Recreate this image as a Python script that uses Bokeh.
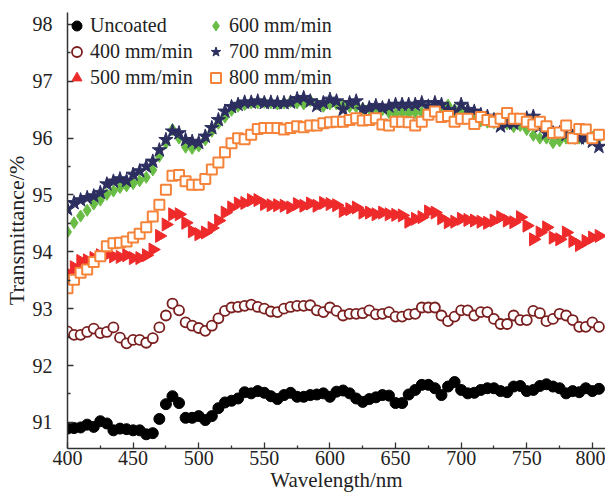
import numpy as np
from bokeh.plotting import figure
from bokeh.models import Range1d, FixedTicker, Legend, LegendItem, ColumnDataSource
from bokeh.embed import file_html
from bokeh.resources import INLINE

wavelength = list(range(400, 810, 5))

uncoated = [90.89, 90.90, 90.91, 90.96, 90.92, 91.02, 90.98, 90.86, 90.89, 90.88,
            90.86, 90.86, 90.79, 90.81, 91.06, 91.32, 91.46, 91.34, 91.08, 91.08,
            91.11, 91.04, 91.11, 91.25, 91.35, 91.38, 91.42, 91.53, 91.51, 91.55,
            91.52, 91.46, 91.41, 91.48, 91.52, 91.45, 91.45, 91.48, 91.49, 91.51,
            91.45, 91.54, 91.56, 91.51, 91.42, 91.36, 91.41, 91.44, 91.48, 91.47,
            91.34, 91.34, 91.49, 91.57, 91.66, 91.66, 91.60, 91.48, 91.63, 91.71,
            91.57, 91.51, 91.52, 91.57, 91.60, 91.60, 91.55, 91.53, 91.63, 91.64,
            91.55, 91.57, 91.64, 91.67, 91.63, 91.60, 91.51, 91.55, 91.53, 91.60,
            91.55, 91.59]

s400 = [92.60, 92.54, 92.54, 92.59, 92.65, 92.57, 92.59, 92.67, 92.49, 92.39,
        92.45, 92.45, 92.40, 92.48, 92.67, 92.88, 93.09, 92.97, 92.76, 92.70,
        92.66, 92.61, 92.70, 92.83, 92.96, 93.02, 93.03, 93.05, 93.07, 93.03,
        93.00, 92.95, 92.94, 93.00, 93.03, 93.05, 93.05, 93.06, 92.97, 92.94,
        93.02, 92.96, 92.88, 92.91, 92.91, 92.92, 92.97, 92.90, 92.91, 92.94,
        92.86, 92.86, 92.90, 92.91, 93.02, 93.02, 93.02, 92.88, 92.78, 92.86,
        92.97, 92.97, 92.88, 92.94, 92.94, 92.82, 92.73, 92.73, 92.88, 92.80,
        92.80, 92.96, 92.92, 92.78, 92.82, 92.91, 92.88, 92.80, 92.68, 92.68,
        92.76, 92.68]

s500 = [93.63, 93.73, 93.84, 93.85, 93.89, 93.94, 93.95, 93.92, 93.91, 93.94,
        93.89, 93.89, 93.94, 94.04, 94.28, 94.48, 94.66, 94.66, 94.51, 94.36,
        94.31, 94.34, 94.42, 94.55, 94.69, 94.78, 94.85, 94.86, 94.91, 94.91,
        94.84, 94.82, 94.82, 94.81, 94.78, 94.84, 94.81, 94.85, 94.81, 94.86,
        94.84, 94.82, 94.72, 94.75, 94.78, 94.69, 94.69, 94.66, 94.69, 94.66,
        94.65, 94.64, 94.53, 94.58, 94.61, 94.71, 94.69, 94.59, 94.52, 94.53,
        94.58, 94.56, 94.55, 94.53, 94.51, 94.55, 94.61, 94.55, 94.52, 94.61,
        94.46, 94.22, 94.34, 94.43, 94.25, 94.22, 94.34, 94.19, 94.12, 94.19,
        94.25, 94.28]

s600 = [94.35, 94.51, 94.63, 94.73, 94.84, 94.91, 95.01, 95.07, 95.13, 95.16,
        95.20, 95.25, 95.31, 95.44, 95.68, 95.91, 96.15, 96.00, 95.84, 95.82,
        95.86, 95.97, 96.12, 96.26, 96.37, 96.49, 96.56, 96.59, 96.62, 96.62,
        96.63, 96.62, 96.60, 96.62, 96.64, 96.62, 96.60, 96.66, 96.60, 96.56,
        96.60, 96.60, 96.58, 96.55, 96.55, 96.52, 96.52, 96.50, 96.50, 96.45,
        96.42, 96.45, 96.43, 96.45, 96.45, 96.50, 96.52, 96.55, 96.58, 96.50,
        96.45, 96.40, 96.35, 96.30, 96.28, 96.27, 96.28, 96.25, 96.20, 96.22,
        96.15, 96.05, 96.00, 96.00, 95.92, 95.95, 96.00, 96.05, 96.00, 96.03,
        96.02, 96.00]

s700 = [94.75, 94.86, 94.91, 94.95, 94.98, 95.04, 95.19, 95.24, 95.28, 95.25,
        95.36, 95.42, 95.50, 95.59, 95.79, 95.97, 96.12, 96.09, 95.97, 95.94,
        95.92, 96.03, 96.18, 96.32, 96.47, 96.55, 96.59, 96.63, 96.63, 96.65,
        96.62, 96.63, 96.62, 96.62, 96.63, 96.69, 96.71, 96.65, 96.57, 96.62,
        96.68, 96.65, 96.50, 96.62, 96.65, 96.50, 96.53, 96.57, 96.53, 96.56,
        96.59, 96.59, 96.59, 96.59, 96.62, 96.56, 96.62, 96.59, 96.50, 96.47,
        96.59, 96.50, 96.47, 96.41, 96.38, 96.32, 96.21, 96.26, 96.26, 96.29,
        96.35, 96.38, 96.21, 96.09, 96.09, 96.09, 96.06, 96.03, 96.00, 96.00,
        95.94, 95.85]

s800 = [93.36, 93.51, 93.63, 93.69, 93.82, 93.92, 94.10, 94.15, 94.16, 94.18,
        94.25, 94.32, 94.43, 94.62, 94.83, 95.09, 95.34, 95.35, 95.24, 95.18,
        95.18, 95.28, 95.45, 95.57, 95.75, 95.91, 96.00, 95.98, 96.06, 96.16,
        96.18, 96.18, 96.18, 96.15, 96.18, 96.21, 96.19, 96.22, 96.22, 96.26,
        96.28, 96.29, 96.29, 96.32, 96.35, 96.31, 96.32, 96.35, 96.24, 96.22,
        96.29, 96.29, 96.28, 96.22, 96.29, 96.41, 96.47, 96.37, 96.39, 96.29,
        96.34, 96.34, 96.25, 96.37, 96.32, 96.29, 96.34, 96.44, 96.34, 96.34,
        96.29, 96.24, 96.29, 96.21, 96.09, 96.10, 96.22, 96.00, 96.16, 96.15,
        96.00, 96.06]

labels = ["Uncoated", "400 mm/min", "500 mm/min", "600 mm/min", "700 mm/min", "800 mm/min"]
x_ticks = [400, 450, 500, 550, 600, 650, 700, 750, 800]
y_ticks = [91, 92, 93, 94, 95, 96, 97, 98]

FONT = "Liberation Serif"
TXT = "#222222"

p = figure(width=605, height=494, output_backend="svg", toolbar_location=None,
           x_range=Range1d(400, 810), y_range=Range1d(90.54, 98.21),
           min_border_left=66, min_border_right=0, min_border_top=12, min_border_bottom=10)
p.outline_line_color = None
p.grid.visible = False
p.background_fill_color = "white"

src = ColumnDataSource(dict(x=wavelength, u=uncoated, a=s400, b=s500, c=s600, d=s700, e=s800))

r0 = p.scatter("x", "u", source=src, marker="circle", size=11, fill_color="black", line_color="black")
r1 = p.scatter("x", "a", source=src, marker="circle", size=10, fill_color="white",
               line_color="#7a1e1e", line_width=1.8)
r2 = p.scatter("x", "b", source=src, marker="triangle", size=13, angle=-np.pi / 2,
               fill_color="#ee2a2a", line_color="#ee2a2a")
r3 = p.scatter("x", "c", source=src, marker="diamond", size=12, fill_color="#69bd45", line_color="#69bd45")
r4 = p.scatter("x", "d", source=src, marker="star", size=15, fill_color="#2c2e5f", line_color="#2c2e5f")
r5 = p.scatter("x", "e", source=src, marker="square", size=10, fill_color="white",
               line_color="#f5843a", line_width=2)

for ax in (p.xaxis[0], p.yaxis[0]):
    ax.axis_line_color = "#333333"
    ax.axis_line_width = 1.5
    ax.major_tick_line_color = "#333333"
    ax.minor_tick_line_color = "#333333"
    ax.major_tick_line_width = 1.3
    ax.minor_tick_line_width = 1.3
    ax.major_tick_in = 6
    ax.major_tick_out = 0
    ax.minor_tick_in = 3
    ax.minor_tick_out = 0
    ax.major_label_text_font = FONT
    ax.major_label_text_font_size = "20px"
    ax.major_label_text_color = TXT
    ax.axis_label_text_font = FONT
    ax.axis_label_text_font_style = "normal"
    ax.axis_label_text_color = TXT

p.xaxis.axis_label_text_font_size = "21px"
p.yaxis.axis_label_text_font_size = "22px"
p.xaxis.ticker = FixedTicker(ticks=x_ticks, minor_ticks=[425, 475, 525, 575, 625, 675, 725, 775])
p.yaxis.ticker = FixedTicker(ticks=y_ticks, minor_ticks=[90.5, 91.5, 92.5, 93.5, 94.5, 95.5, 96.5, 97.5])
p.xaxis.axis_label = "Wavelength/nm"
p.yaxis.axis_label = "Transmittance/%"
p.xaxis.major_label_standoff = 2
p.yaxis.major_label_standoff = 15
p.xaxis.axis_label_standoff = 0
p.yaxis.axis_label_standoff = 1

def make_legend(items, x, y):
    lg = Legend(items=items, location=(x, y), orientation="vertical")
    lg.label_text_font = FONT
    lg.label_text_font_size = "20px"
    lg.label_text_color = TXT
    lg.label_height = 20
    lg.glyph_height = 25
    lg.glyph_width = 25
    lg.spacing = 1
    lg.label_standoff = 1
    lg.padding = 0
    lg.margin = 0
    lg.border_line_color = None
    lg.background_fill_alpha = 0
    return lg

lg1 = make_legend([LegendItem(label=labels[0], renderers=[r0]),
                   LegendItem(label=labels[1], renderers=[r1]),
                   LegendItem(label=labels[2], renderers=[r2])], -3, 358)
lg2 = make_legend([LegendItem(label=labels[3], renderers=[r3]),
                   LegendItem(label=labels[4], renderers=[r4]),
                   LegendItem(label=labels[5], renderers=[r5])], 136, 358)
p.add_layout(lg1, "center")
p.add_layout(lg2, "center")

open("out.html", "w").write(file_html(p, INLINE))
